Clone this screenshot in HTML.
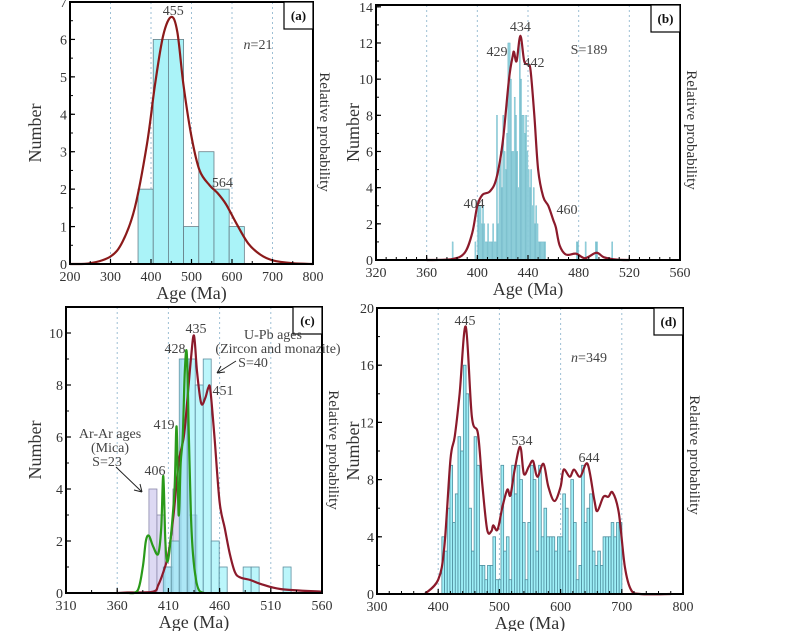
<!DOCTYPE html>
<html><head><meta charset="utf-8">
<style>
html,body{margin:0;padding:0;background:#fff;}
svg{display:block;font-family:"Liberation Serif",serif;}
.tk{font-size:14px;fill:#333;}
.ttl{font-size:18px;fill:#333;}
.ann{font-size:14px;fill:#444;}
</style></head>
<body>
<svg id="fig" width="800" height="631" viewBox="0 0 800 631" xmlns="http://www.w3.org/2000/svg"></svg>
<script>
// ---------- Panel (a) data ----------
const aBinStart = 368, aBinWidth = 37.5;
const aCounts = [2, 6, 6, 1, 3, 2, 1];
const aCurveAge = [200,250,300,330,360,390,410,430,450,465,480,500,520,545,564,585,610,640,670,700,750,800];
const aCurveVal = [0,0.02,0.2,0.6,1.5,3.2,4.8,6.1,6.6,6.2,4.8,3.4,2.5,2.1,1.9,1.6,1.1,0.55,0.25,0.1,0.02,0];
const aXTicks = [200,300,400,500,600,700,800];
const aYTicks = [0,1,2,3,4,5,6,7];

// ---------- Panel (b) data ----------
const bAges = [380,398,400,401,402,403,404,405,406,407,408,409,410,411,412,413,414,415,416,417,418,419,420,421,422,423,424,425,426,427,428,429,430,431,432,433,434,435,436,437,438,439,440,441,442,443,444,445,446,447,448,449,450,451,452,453,478,479,485,493,494,506];
const bCounts = [1,1,3,3,3,2,3,2,1,1,2,1,1,1,2,1,1,8,2,5,6,4,8,6,5,7,12,12,10,6,6,9,8,6,4,12,10,8,8,7,8,6,5,4,5,3,4,2,3,2,1,1,1,1,1,1,1,1,1,1,1,1];
const bCurveAge = [360,380,390,396,400,404,410,415,420,425,428,429,431,434,437,440,442,445,448,452,456,460,462,465,470,478,485,494,500,510,520];
const bCurveVal = [0,0.05,0.4,1.5,3,3.6,3.8,4.5,6.5,10,11.3,11.5,11,12.4,11,10.8,10.5,8,5,3.5,3,2.2,1.8,0.8,0.3,0.35,0.1,0.4,0.15,0.02,0];
const bXTicks = [320,360,400,440,480,520,560];
const bYTicks = [0,2,4,6,8,10,12,14];

// ---------- Panel (c) data ----------
const cUpbStart = 405, cUpbWidth = 7.8;
const cUpbCounts = [1,2,9,9,8,9,2,1,0,0,1,1,0,0,0,1];
const cArStart = 391, cArWidth = 7.8;
const cArCounts = [4,3,1,4,9,3];
const cGreenAge = [370,380,385,388,391,395,400,403,405,407,409,412,416,418,420,422,424,426,428,430,432,434,437,440,445];
const cGreenVal = [0,0.1,1,2,2.2,1.8,1.5,2.5,4.5,2,1.2,2,4,6.4,3,5,6,8.5,9.2,6,3,1.5,0.5,0.1,0];
const cRedAge = [360,370,395,400,405,410,415,420,425,428,432,435,438,442,446,449,451,455,460,465,470,475,480,490,500,520,560];
const cRedVal = [0,0.02,0.05,0.3,0.8,1.5,3,5,6,7.2,9,9.9,8.5,7.3,7.5,7.9,7.8,6,3.5,2.5,1.5,0.8,0.6,0.5,0.35,0.15,0.05];
const cXTicks = [310,360,410,460,510,560];
const cYTicks = [0,2,4,6,8,10];

// ---------- Panel (d) data ----------
const dBinStart = 406, dBinWidth = 4.39;
const dCounts = [4,3,6,9,5,7,11,10,16,14,6,3,11,9,2,2,1,2,2,4,1,1,9,3,4,1,9,7,9,8,5,1,5,9,8,3,9,4,6,4,4,4,3,4,4,7,6,3,8,5,1,2,9,5,6,7,3,2,3,2,4,4,4,5,4,5,5];
const dCurveAge = [378,400,410,420,427,435,445,455,465,472,480,487,490,497,505,513,518,525,534,540,548,555,562,572,580,590,600,605,615,622,632,644,655,660,670,678,685,695,705,715,730,780];
const dCurveVal = [0,1.0,3.3,9.4,11,14,18.7,12.4,11.2,7.7,4.5,4.4,4.8,4.5,6.1,7.3,6.9,8.7,10.3,8.4,8.9,9.3,8.2,9.1,7.5,6.5,7.5,8.7,8.2,8.7,8.2,9.1,6.6,5.8,6.8,6.8,7.1,5.7,1.9,0.3,0,0];
const dXTicks = [300,400,500,600,700,800];
const dYTicks = [0,4,8,12,16,20];

const NS = "http://www.w3.org/2000/svg";
const svg = document.getElementById('fig');
function mk(tag, attrs, parent, text){
  const e = document.createElementNS(NS, tag);
  for (const k in attrs) e.setAttribute(k, attrs[k]);
  if (text !== undefined) e.textContent = text;
  (parent || svg).appendChild(e);
  return e;
}
function linScale(d0,d1,r0,r1){ return v => r0 + (v-d0)/(d1-d0)*(r1-r0); }
function smoothPath(pts){
  let d = "M" + pts[0][0].toFixed(2) + "," + pts[0][1].toFixed(2);
  for (let i=0;i<pts.length-1;i++){
    const p0 = pts[Math.max(0,i-1)], p1 = pts[i], p2 = pts[i+1], p3 = pts[Math.min(pts.length-1,i+2)];
    const c1x = p1[0] + (p2[0]-p0[0])/6, c1y = p1[1] + (p2[1]-p0[1])/6;
    const c2x = p2[0] - (p3[0]-p1[0])/6, c2y = p2[1] - (p3[1]-p1[1])/6;
    d += " C" + c1x.toFixed(2)+","+c1y.toFixed(2)+" "+c2x.toFixed(2)+","+c2y.toFixed(2)+" "+p2[0].toFixed(2)+","+p2[1].toFixed(2);
  }
  return d;
}

function panel(p){
  const g = mk('g', {});
  
  
  const x = linScale(p.xd[0], p.xd[1], p.x0, p.x1);
  const y = linScale(0, p.ymax, p.y0, p.y1);
  p.grid.forEach(v => {
    const l = mk('line', {x1:x(v), x2:x(v), y1:p.y1, y2:p.y0, stroke:'#9dbfd4', 'stroke-width':1, 'stroke-dasharray':'2,3'}, g);
    
    
  });
  return {g, x, y};
}
function frame(p, ctx){
  const {g, x, y} = ctx;
  const f = mk('rect', {x:p.x0, y:p.y1, width:p.x1-p.x0, height:p.y0-p.y1, fill:'none', stroke:'#000', 'stroke-width':2}, g);
  
  
  const lb = mk('rect', {x:p.x1-29, y:p.y1, width:29, height:27, fill:'#fff', stroke:'#000', 'stroke-width':1.2}, g);
  
  
  const lt = mk('text', {x:p.x1-14.5, y:p.y1+18, 'text-anchor':'middle', style:'font-size:13px;fill:#111;font-weight:bold'}, g, '(' + p.id + ')');
  
  
  p.xt.forEach(v => {
    mk('line', {x1:x(v), x2:x(v), y1:p.y0, y2:p.y0-5, stroke:'#000', 'stroke-width':1.2}, g);
    const t = mk('text', {x:x(v), y:p.y0+17, 'text-anchor':'middle', class:'tk'}, g, String(v));
    
    
  });
  const xs = (p.xt[1]-p.xt[0]) / p.xminor;
  for (let v = p.xd[0]; v <= p.xd[1]; v += xs){
    mk('line', {x1:x(v), x2:x(v), y1:p.y0, y2:p.y0-3, stroke:'#000', 'stroke-width':1}, g);
  }
  p.yt.forEach(v => {
    mk('line', {x1:p.x0, x2:p.x0+5, y1:y(v), y2:y(v), stroke:'#000', 'stroke-width':1.2}, g);
    const t = mk('text', {x:p.x0-3, y:y(v)+5, 'text-anchor':'end', class:'tk'}, g, String(v));
    
    
  });
  const ys = (p.yt[1]-p.yt[0]) / p.yminor;
  for (let v = 0; v <= p.ymax; v += ys){
    mk('line', {x1:p.x0, x2:p.x0+3, y1:y(v), y2:y(v), stroke:'#000', 'stroke-width':1}, g);
  }
  const cx = (p.x0+p.x1)/2;
  const xt = mk('text', {x:cx, y:p.y0+35, 'text-anchor':'middle', class:'ttl'}, g, 'Age (Ma)');
  
  
  const cy = (p.y0+p.y1)/2;
  const yt = mk('text', {x:0, y:0, 'text-anchor':'middle', class:'ttl', transform:'translate(' + p.numX + ',' + cy + ') rotate(-90)'}, g, 'Number');
  
  
  const rt = mk('text', {x:0, y:0, 'text-anchor':'middle', style:'font-size:15px;fill:#333', transform:'translate(' + (p.x1+7) + ',' + (p.rpy) + ') rotate(90)'}, g, 'Relative probability');
  
  
}
function bar(ctx, a0, a1, v, fill, stroke, op, sw){
  const {g, x, y} = ctx;
  if (v <= 0) return;
  const r = mk('rect', {x:x(a0), y:y(v), width:x(a1)-x(a0), height:y(0)-y(v), fill:fill, stroke:stroke, 'stroke-width':sw||0.8, 'fill-opacity':op}, g);
  
  
}
function curve(ctx, ages, vals, color, name){
  const {g, x, y} = ctx;
  const pts = ages.map((a,i) => [x(a), y(vals[i])]);
  const c = mk('path', {d:smoothPath(pts), fill:'none', stroke:color, 'stroke-width':2.2}, g);
  
  
}
function ann(ctx, tx, ty, s, name, anchor){
  const t = mk('text', {x:tx, y:ty, 'text-anchor':anchor||'middle', class:'ann'}, ctx.g, s);
  
  
  return t;
}

// Panel a
const pa = {id:'a', x0:70, x1:313, y0:264, y1:2, xd:[200,800], ymax:7, xt:aXTicks, yt:aYTicks, xminor:2, yminor:2, grid:[300,400,500,600,700], rpy:132, numX:41};
const ca = panel(pa);
aCounts.forEach((v,i) => bar(ca, aBinStart+i*aBinWidth, aBinStart+(i+1)*aBinWidth, v, '#aaf3f8', '#667f88', 1));
curve(ca, aCurveAge, aCurveVal, '#8b1a1a', 'probability-curve');
frame(pa, ca);
ann(ca, ca.x(455), 15, '455', 'peak-label-455');
ann(ca, ca.x(564)+5, 187, '564', 'peak-label-564');
const na = ann(ca, 258, 49, '', 'sample-count', 'middle');
na.innerHTML = '<tspan font-style="italic">n</tspan>=21';

// Panel b
const pb = {id:'b', x0:376, x1:680, y0:260, y1:5, xd:[320,560], ymax:14.1, xt:bXTicks, yt:bYTicks, xminor:5, yminor:2, grid:[360,400,440,480,520], rpy:130, numX:359};
const cb = panel(pb);
bAges.forEach((a,i) => bar(cb, a+0.1, a+0.9, bCounts[i], '#a9e4ec', '#6fb6c6', 1, 0.5));
curve(cb, bCurveAge, bCurveVal, '#8b1a2b', 'probability-curve');
frame(pb, cb);
ann(cb, cb.x(434), 31, '434', 'peak-label-434');
ann(cb, 497, 56, '429', 'peak-label-429');
ann(cb, 534, 67, '442', 'peak-label-442');
ann(cb, 474, 208, '404', 'peak-label-404');
ann(cb, 567, 214, '460', 'peak-label-460');
ann(cb, 589, 54, 'S=189', 'sample-count');

// Panel c
const pc = {id:'c', x0:66, x1:322, y0:593, y1:307, xd:[310,560], ymax:11, xt:cXTicks, yt:cYTicks, xminor:2, yminor:2, grid:[360,410,460,510], rpy:450, numX:41};
const cc = panel(pc);
cArCounts.forEach((v,i) => bar(cc, cArStart+i*cArWidth, cArStart+(i+1)*cArWidth, v, '#d9d5f2', '#8a88aa', 0.9));
cUpbCounts.forEach((v,i) => bar(cc, cUpbStart+i*cUpbWidth, cUpbStart+(i+1)*cUpbWidth, v, '#8ef0f8', '#5f8fa0', 0.6));
curve(cc, cRedAge, cRedVal, '#8b1a2b', 'upb-probability-curve');
curve(cc, cGreenAge, cGreenVal, '#2a9a1a', 'arar-probability-curve');
frame(pc, cc);
ann(cc, 196, 333, '435', 'peak-label-435');
ann(cc, 175, 353, '428', 'peak-label-428');
ann(cc, 273, 339, 'U-Pb ages', 'upb-label');
ann(cc, 278, 353, '(Zircon and monazite)', 'upb-label-mineral');
ann(cc, 253, 367, 'S=40', 'upb-count');
ann(cc, 223, 395, '451', 'peak-label-451');
ann(cc, 164, 429, '419', 'peak-label-419');
ann(cc, 110, 438, 'Ar-Ar ages', 'arar-label');
ann(cc, 110, 452, '(Mica)', 'arar-label-mineral');
ann(cc, 107, 466, 'S=23', 'arar-count');
ann(cc, 155, 475, '406', 'peak-label-406');
const ar1 = mk('path', {d:'M116,467 L142,492 M142,492 L134,490 M142,492 L140,484', stroke:'#222', 'stroke-width':1, fill:'none'}, cc.g);


const ar2 = mk('path', {d:'M236,361 L217,373 M217,373 L225,372 M217,373 L221,366', stroke:'#222', 'stroke-width':1, fill:'none'}, cc.g);



// Panel d
const pd = {id:'d', x0:377, x1:683, y0:594, y1:308, xd:[300,800], ymax:20, xt:dXTicks, yt:dYTicks, xminor:5, yminor:2, grid:[400,500,600,700], rpy:455, numX:359};
const cd = panel(pd);
dCounts.forEach((v,i) => bar(cd, dBinStart+i*dBinWidth, dBinStart+(i+1)*dBinWidth, v, '#9ff0f8', '#4f8f9f', 1));
curve(cd, dCurveAge, dCurveVal, '#8b1a2b', 'probability-curve');
frame(pd, cd);
ann(cd, 465, 325, '445', 'peak-label-445');
ann(cd, 522, 445, '534', 'peak-label-534');
ann(cd, 589, 462, '644', 'peak-label-644');
const nd = ann(cd, 589, 362, '', 'sample-count');
nd.innerHTML = '<tspan font-style="italic">n</tspan>=349';
</script>
</body></html>
